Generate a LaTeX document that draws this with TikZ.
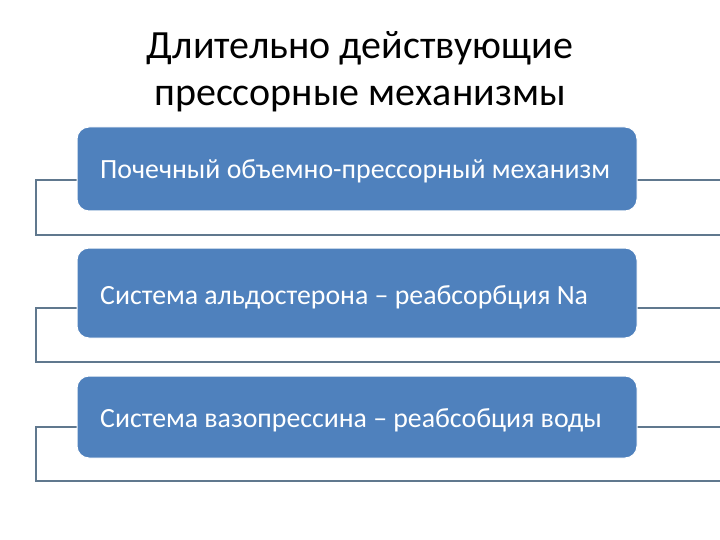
\documentclass[tikz,border=0pt]{standalone}
\usepackage{fontspec}
\setmainfont{Carlito}
\definecolor{boxblue}{RGB}{79,129,189}
\definecolor{framegray}{RGB}{96,120,142}
\begin{document}
\begin{tikzpicture}[x=1pt,y=-1pt,
  item/.style={draw=white,line width=1pt,fill=boxblue,rounded corners=12pt},
  itemtext/.style={text=white,font=\fontsize{27.8}{32}\selectfont,anchor=base west,inner sep=0pt},
  titletext/.style={font=\fontsize{40}{48}\selectfont,anchor=base,inner sep=0pt},
  frame/.style={draw=framegray,line width=2pt}]
\useasboundingbox (0,0) rectangle (720,540);
\node[titletext] (t1) at (360,59) {Длительно действующие};
\node[titletext] (t2) at (360,106) {прессорные механизмы};
% frames
\draw[frame] (721,180) -- (36,180) -- (36,235) -- (721,235);
\draw[frame] (721,308) -- (36,308) -- (36,362) -- (721,362);
\draw[frame] (721,427) -- (36,427) -- (36,481) -- (721,481);
% boxes
\path[item] (77,127) rectangle (637,211);
\node[itemtext] (b1) at (100,179) {Почечный объемно-прессорный механизм};
\path[item] (77,248) rectangle (637,338);
\node[itemtext] (b2) at (100,304) {Система альдостерона – реабсорбция Na};
\path[item] (77,376) rectangle (637,458);
\node[itemtext] (b3) at (100,427) {Система вазопрессина – реабсобция воды};
\end{tikzpicture}
\end{document}
